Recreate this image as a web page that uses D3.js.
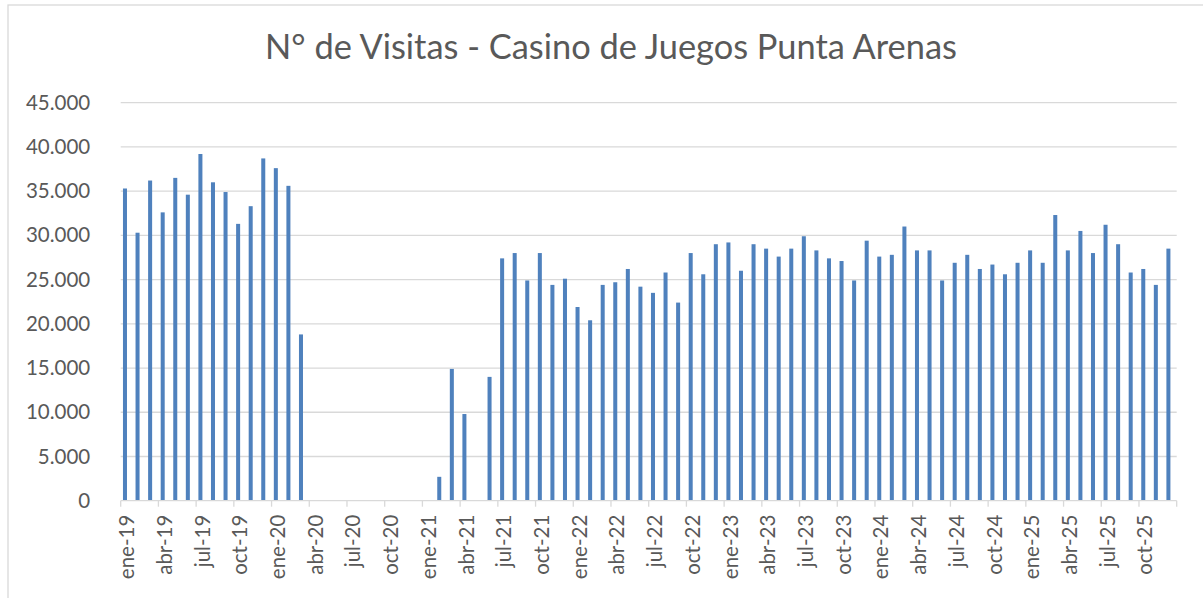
<!DOCTYPE html>
<html>
<head>
<meta charset="utf-8">
<script src="https://cdn.jsdelivr.net/npm/d3@7"></script>
<style>
  html, body { margin: 0; padding: 0; background: #ffffff; }
  svg { display: block; }
</style>
</head>
<body>
<svg id="chart" width="1203" height="598"></svg>
<script>
// ---- data ----
const title = "N° de Visitas - Casino de Juegos Punta Arenas";
const monthNames = ["ene","feb","mar","abr","may","jun","jul","ago","sep","oct","nov","dic"];
const years = ["19","20","21","22","23","24","25"];
const categories = years.flatMap(y => monthNames.map(m => m + "-" + y));
const visitas2019 = [35300, 30300, 36200, 32600, 36500, 34600, 39200, 36000, 34900, 31300, 33300, 38700];
const visitas2020 = [37600, 35600, 18800, 0, 0, 0, 0, 0, 0, 0, 0, 0];
const visitas2021 = [0, 2700, 14900, 9800, 0, 14000, 27400, 28000, 24900, 28000, 24400, 25100];
const visitas2022 = [21900, 20400, 24400, 24700, 26200, 24200, 23500, 25800, 22400, 28000, 25600, 29000];
const visitas2023 = [29200, 26000, 29000, 28500, 27600, 28500, 29900, 28300, 27400, 27100, 24900, 29400];
const visitas2024 = [27600, 27800, 31000, 28300, 28300, 24900, 26900, 27800, 26200, 26700, 25600, 26900];
const visitas2025 = [28300, 26900, 32300, 28300, 30500, 28000, 31200, 29000, 25800, 26200, 24400, 28500];
const values = [].concat(visitas2019, visitas2020, visitas2021, visitas2022, visitas2023, visitas2024, visitas2025);
const yTicks = [0, 5000, 10000, 15000, 20000, 25000, 30000, 35000, 40000, 45000];
const tickLabelEvery = 3;

// ---- layout ----
const svg = d3.select("#chart");
const W = 1203, H = 598;
const pLeft = 120.7, pRight = 1176.7, pTop = 102.7, pBottom = 500.7;
const fontFamily = "Lato, 'Open Sans', sans-serif";
const textColor = "#595959";
const gridColor = "#d9d9d9";
const barColor = "#4f81bd";

// chart border
svg.append("rect")
  .attr("x", 8).attr("y", 5)
  .attr("width", W + 20).attr("height", H + 20)
  .attr("fill", "#fff").attr("stroke", gridColor).attr("stroke-width", 1.3);

const x = d3.scaleBand().domain(categories).range([pLeft, pRight]).paddingInner(0).paddingOuter(0);
const y = d3.scaleLinear().domain([0, 45000]).range([pBottom, pTop]);

const locale = d3.formatLocale({decimal: ",", thousands: ".", grouping: [3], currency: ["$", ""]});
const fmt = locale.format(",d");

// gridlines
svg.append("g").selectAll("line").data(yTicks.filter(d => d > 0)).join("line")
  .attr("x1", pLeft).attr("x2", pRight)
  .attr("y1", d => y(d)).attr("y2", d => y(d))
  .attr("stroke", gridColor).attr("stroke-width", 1.3);

// y axis (labels only)
const yAxis = d3.axisLeft(y).tickValues(yTicks).tickFormat(fmt).tickSize(0).tickPadding(0);
const yg = svg.append("g").attr("transform", `translate(${pLeft - 30.5},0)`).call(yAxis);
yg.select(".domain").remove();
yg.selectAll("text")
  .attr("fill", textColor)
  .style("font-family", fontFamily)
  .style("font-size", "20.5px");

// bars (clustered layout: bar occupies left slot of the category)
const bw = x.bandwidth();
const barW = bw / 3.13;
const barOffset = (bw - 2 * barW) / 2;
svg.append("g").selectAll("rect").data(values.map((v, i) => ({c: categories[i], v})))
  .join("rect")
  .attr("x", d => x(d.c) + barOffset)
  .attr("width", barW)
  .attr("y", d => y(d.v))
  .attr("height", d => y(0) - y(d.v))
  .attr("fill", barColor);

// x axis line and ticks
svg.append("line")
  .attr("x1", pLeft).attr("x2", pRight)
  .attr("y1", pBottom).attr("y2", pBottom)
  .attr("stroke", gridColor).attr("stroke-width", 1.3);

const tickIdx = d3.range(0, categories.length + 1, tickLabelEvery);
svg.append("g").selectAll("line").data(tickIdx).join("line")
  .attr("x1", i => i < categories.length ? x(categories[i]) : pRight)
  .attr("x2", i => i < categories.length ? x(categories[i]) : pRight)
  .attr("y1", pBottom).attr("y2", pBottom + 6)
  .attr("stroke", gridColor).attr("stroke-width", 1.3);

// x labels (every 3rd month), rotated
const labelCats = categories.filter((c, i) => i % tickLabelEvery === 0);
svg.append("g").selectAll("text").data(labelCats).join("text")
  .attr("transform", c => `translate(${x(c) + bw / 2},${pBottom + 14}) rotate(-90)`)
  .attr("text-anchor", "end")
  .attr("dy", "0.35em")
  .attr("fill", textColor)
  .style("font-family", fontFamily)
  .style("font-size", "20.5px")
  .text(c => c);

// title
const t = svg.append("text")
  .attr("x", 611).attr("y", 59)
  .attr("text-anchor", "middle")
  .attr("fill", textColor)
  .style("font-family", fontFamily)
  .style("font-size", "30px")
  .text(title);
const tw = t.node().getComputedTextLength();
t.style("font-size", (30 * 692 / tw).toFixed(2) + "px");
</script>
</body>
</html>
